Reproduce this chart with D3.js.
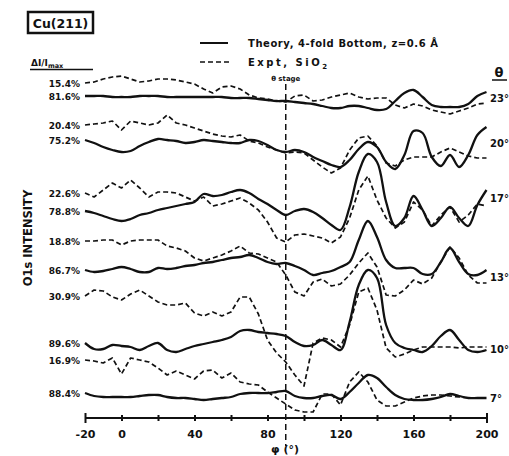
<!DOCTYPE html>
<html><head><meta charset="utf-8">
<script src="https://cdn.jsdelivr.net/npm/d3@7"></script>
<style>
body{margin:0;background:#fff}
svg{display:block}
text{font-family:"DejaVu Sans",sans-serif;font-weight:bold;fill:#111}
</style>
</head><body>
<svg id="c" width="509" height="456"></svg>
<script>
// azimuthal angle phi (deg)
const phi = [-20,-15,-10,-5,0,5,10,15,20,25,30,35,40,45,50,55,60,65,70,75,80,85,90,95,100,105,110,115,120,125,130,135,140,145,150,155,160,165,170,175,180,185,190,195,200];

// O1s intensity (arbitrary, vertically offset) - theory (solid) and experiment (dashed)
const theory23 = [344,344,344,343,343,343,344,344,344,343,343,343,343,343,343,343,342,342,342,341,340,339,339,338,337,336,334,332,332,334,334,332,330,331,339,347,350,343,335,333,333,333,336,344,348];
const expt23   = [357,358,361,363,364,361,358,359,361,361,360,358,356,351,347,353,354,351,345,342,341,339,338,344,345,339,340,343,345,347,343,341,342,342,335,332,336,334,330,328,326,329,332,336,337];
const theory20 = [300,297,293,290,288,289,294,298,301,300,299,297,298,300,299,298,297,297,300,299,295,290,288,290,288,283,279,275,273,280,291,298,293,278,271,285,309,307,283,274,285,273,285,305,313];
const expt20   = [315,316,317,319,310,319,317,315,317,325,317,315,312,309,306,304,303,305,299,297,293,290,287,288,287,280,273,267,272,290,302,304,294,277,274,280,283,283,283,288,292,288,284,282,282];
const theory17 = [229,227,224,221,219,221,225,227,230,232,234,236,238,246,244,245,248,250,247,241,236,230,225,229,231,228,222,215,210,233,268,286,278,238,214,222,244,230,214,222,233,222,214,235,250];
const expt17   = [247,243,250,257,252,260,252,243,248,248,247,243,239,243,234,236,239,242,237,230,218,202,198,205,206,204,202,197,203,222,250,264,240,222,212,218,238,230,214,225,233,218,225,236,234];
const theory13 = [170,168,169,171,173,171,168,168,172,171,172,174,175,177,178,180,182,183,185,182,178,176,177,174,170,165,167,169,173,178,200,219,203,180,172,172,172,166,166,178,192,178,166,165,170];
const expt13   = [199,199,200,200,195,199,200,200,200,194,192,189,182,179,182,185,189,194,187,186,182,178,165,148,144,158,161,154,156,165,177,187,173,145,144,150,160,156,162,178,193,182,165,157,157];
const theory10 = [97,91,91,95,94,93,90,94,97,90,88,91,94,96,98,100,103,109,110,108,107,106,104,98,94,95,100,95,90,118,155,170,162,115,97,92,90,88,94,104,110,100,90,88,90];
const expt10   = [144,150,149,143,140,146,150,144,138,135,135,137,127,124,128,124,128,143,143,126,100,87,78,65,54,97,102,100,93,115,148,152,130,92,83,86,90,93,93,93,93,92,93,93,93];
const theory7  = [47,44,43,43,43,43,44,45,45,43,42,42,41,40,41,42,43,46,47,47,47,48,49,44,42,42,44,45,41,48,57,65,62,53,45,41,40,40,41,43,46,44,42,42,42];
const expt7    = [80,79,77,82,66,82,80,78,72,65,69,65,61,69,70,62,67,58,56,55,48,42,36,30,28,28,46,46,35,58,68,58,40,34,34,38,42,44,45,45,44,43,42,42,42];

const angles      = ["23°","20°","17°","13°","10°","7°"];
const theoryPct   = ["81.6%","75.2%","78.8%","86.7%","89.6%","88.4%"];
const exptPct     = ["15.4%","20.4%","22.6%","18.8%","30.9%","16.9%"];
const tickMajor   = [-20,0,40,80,120,160,200];
const tickAll     = [-20,0,20,40,60,80,100,120,140,160,180,200];
const stagePhi    = 90;

const theorySeries = [theory23,theory20,theory17,theory13,theory10,theory7];
const exptSeries   = [expt23,expt20,expt17,expt13,expt10,expt7];

const svg = d3.select("#c");
const x = d3.scaleLinear().domain([-20,200]).range([85,486.5]);
const y = d3.scaleLinear().domain([0,380]).range([440,60]);
const ink = "#111";

// curves
const lineSmooth = d3.line().x((d,i)=>x(phi[i])).y(d=>y(d)).curve(d3.curveCatmullRom.alpha(0.5));
const lineRough  = d3.line().x((d,i)=>x(phi[i])).y(d=>y(d)).curve(d3.curveLinear);

svg.append("g").selectAll("path").data(exptSeries).join("path")
  .attr("d", lineRough).attr("fill","none").attr("stroke",ink)
  .attr("stroke-width",1.7).attr("stroke-dasharray","5,3").attr("stroke-linejoin","round");
svg.append("g").selectAll("path").data(theorySeries).join("path")
  .attr("d", lineSmooth).attr("fill","none").attr("stroke",ink)
  .attr("stroke-width",2.3).attr("stroke-linejoin","round");

// stage line
svg.append("line").attr("x1",x(stagePhi)).attr("x2",x(stagePhi)).attr("y1",84).attr("y2",446)
  .attr("stroke",ink).attr("stroke-width",1.5).attr("stroke-dasharray","6,4");
svg.append("text").attr("x",x(stagePhi)).attr("y",81).attr("text-anchor","middle")
  .attr("font-size",7).text("θ stage");

// percent labels
const pctG = svg.append("g");
exptSeries.forEach((s,i)=>{
  pctG.append("text").attr("x",80).attr("y",y(s[0])+3.5).attr("text-anchor","end")
    .attr("font-size",9).text(exptPct[i]);
});
theorySeries.forEach((s,i)=>{
  pctG.append("text").attr("x",80).attr("y",y(s[0])+3.5).attr("text-anchor","end")
    .attr("font-size",9).text(theoryPct[i]);
});
// angle labels
theorySeries.forEach((s,i)=>{
  const e = exptSeries[i];
  const yy = (y(s[s.length-1]) + y(e[e.length-1]))/2;
  svg.append("text").attr("x",490).attr("y",yy+4).attr("font-size",10).text(angles[i]);
});

// x axis
const axis = d3.axisBottom(x).tickValues(tickAll).tickSize(3)
  .tickFormat(d => tickMajor.includes(d) ? (d<0 ? "-"+Math.abs(d) : String(d)) : "");
const ax = svg.append("g").attr("transform","translate(0,418)").call(axis);
ax.select(".domain").attr("stroke",ink).attr("stroke-width",1.8).attr("d","M85,0H486.5");
ax.selectAll(".tick line").attr("y1",-3).attr("y2",3).attr("stroke",ink).attr("stroke-width",2);
ax.selectAll(".tick text").attr("y",12).attr("dy","0.71em").attr("font-size",11)
  .attr("font-family","DejaVu Sans").attr("font-weight","bold").attr("fill",ink);
ax.selectAll(".tick").filter(d=>d===-20||d===200).select("line").attr("y1",-5).attr("y2",5);
svg.append("text").attr("x",285).attr("y",453).attr("text-anchor","middle").attr("font-size",11).text("φ (°)");

// y title
svg.append("text").attr("transform","translate(32,238) rotate(-90)").attr("text-anchor","middle")
  .attr("font-size",11.5).text("O1s INTENSITY");

// Cu(211) box
svg.append("rect").attr("x",28).attr("y",12).attr("width",65).attr("height",21)
  .attr("fill","none").attr("stroke",ink).attr("stroke-width",2.5);
svg.append("text").attr("x",60.5).attr("y",27.5).attr("text-anchor","middle").attr("font-size",12.5).text("Cu(211)");

// ΔI/Imax
const di = svg.append("text").attr("x",31).attr("y",66).attr("font-size",9);
di.append("tspan").text("ΔI/I");
di.append("tspan").attr("font-size",6.5).attr("dy",2).text("max");
svg.append("line").attr("x1",30).attr("x2",93).attr("y1",69.5).attr("y2",69.5).attr("stroke",ink).attr("stroke-width",1.5);

// theta header
svg.append("text").attr("x",499).attr("y",77).attr("text-anchor","middle").attr("font-size",13).text("θ");
svg.append("line").attr("x1",492).attr("x2",507).attr("y1",80).attr("y2",80).attr("stroke",ink).attr("stroke-width",1.5);

// legend
svg.append("line").attr("x1",200).attr("x2",228).attr("y1",43).attr("y2",43).attr("stroke",ink).attr("stroke-width",2);
svg.append("text").attr("x",248).attr("y",47).attr("font-size",10)
  .attr("textLength",190).attr("lengthAdjust","spacing").text("Theory, 4-fold Bottom, z=0.6 Å");
svg.append("line").attr("x1",200).attr("x2",232).attr("y1",62).attr("y2",62).attr("stroke",ink).attr("stroke-width",1.7).attr("stroke-dasharray","5,3");
const lt = svg.append("text").attr("x",248).attr("y",66).attr("font-size",10).attr("letter-spacing",2.5);
lt.append("tspan").text("Expt, SiO");
lt.append("tspan").attr("font-size",7).attr("dy",2.5).text("2");
</script>
</body></html>
